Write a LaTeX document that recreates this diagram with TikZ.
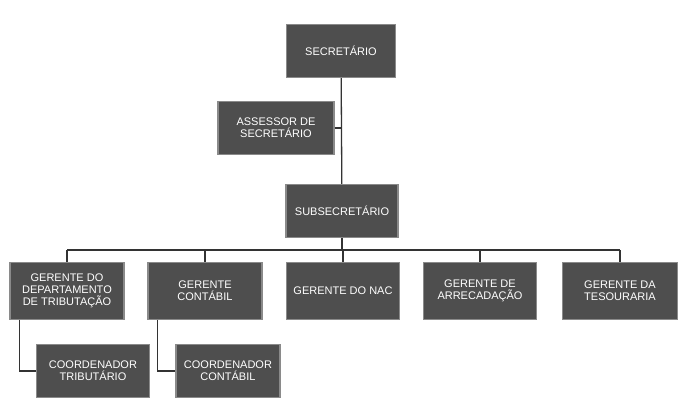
\documentclass[tikz,border=0pt]{standalone}
\usepackage{fontspec}
\setmainfont{Liberation Sans}
\usetikzlibrary{positioning}
\definecolor{boxfill}{HTML}{4E4E4E}
\definecolor{boxline}{HTML}{8A8A8A}
\begin{document}
\begin{tikzpicture}[x=1pt,y=-1pt]
				\tikzstyle{cargo}=[rectangle,draw=boxline,line width=1.2pt,fill=boxfill,text=white,
					font=\fontsize{11}{12}\selectfont,align=center,minimum height=53pt,inner sep=1pt]
				\tikzstyle{liga}=[draw=black!80,line width=1.3pt]
				\useasboundingbox (0,0) rectangle (686,408);
				\node[cargo,minimum width=109pt] (sec) at (341,51) {SECRETÁRIO};
				\node[cargo,minimum width=116pt] (ass) at (276,128) {ASSESSOR DE\\SECRETÁRIO};
				\node[cargo,minimum width=112pt] (sub) at (342,211) {SUBSECRETÁRIO};
				\node[cargo,minimum width=114pt,minimum height=57pt] (trib) at (67,291) {GERENTE DO\\DEPARTAMENTO\\DE TRIBUTAÇÃO};
				\node[cargo,minimum width=114pt,minimum height=57pt] (cont) at (205,291) {GERENTE\\CONTÁBIL};
				\node[cargo,minimum width=113pt,minimum height=57pt] (nac) at (343,291) {GERENTE DO NAC};
				\node[cargo,minimum width=113pt,minimum height=57pt] (arr) at (480,291) {GERENTE DE\\ARRECADAÇÃO};
				\node[cargo,minimum width=115pt,minimum height=57pt] (tes) at (620,291) {GERENTE DA\\TESOURARIA};
				\node[cargo,minimum width=113pt] (ctrib) at (93,371) {COORDENADOR\\TRIBUTÁRIO};
				\node[cargo,minimum width=104pt] (ccont) at (228,371) {COORDENADOR\\CONTÁBIL};
				% ligacoes
				\coordinate (bus) at (342,250);
				\draw[liga] (sec) -- (sub);
				\draw[liga] (ass.east) -- (ass.east -| sec.south);
				\draw[liga] (sub) -- (bus);
				\draw[liga] (trib.north |- bus) -- (tes.north |- bus);
				\foreach \g in {trib,cont,nac,arr,tes}
					\draw[liga] (\g.north |- bus) -- (\g.north);
				\draw[liga] ([xshift=10pt]trib.south west) |- (ctrib.west);
				\draw[liga] ([xshift=10pt]cont.south west) |- (ccont.west);
\end{tikzpicture}
\end{document}
